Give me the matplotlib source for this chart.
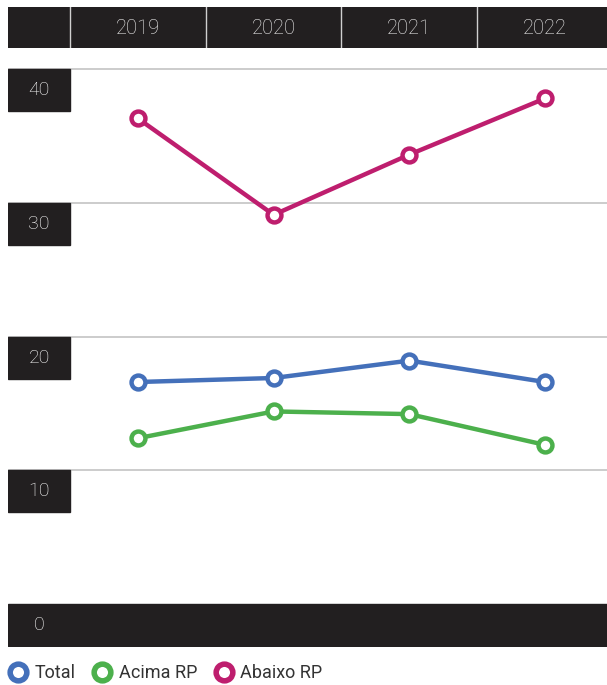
import matplotlib
matplotlib.use("Agg")
import matplotlib.pyplot as plt
from matplotlib.patches import Rectangle
from matplotlib.lines import Line2D

plt.rcParams['font.family'] = ['Roboto', 'DejaVu Sans']

years = ['2019', '2020', '2021', '2022']
total = [16.6, 16.9, 18.2, 16.6]
acima = [12.4, 14.4, 14.2, 11.9]
abaixo = [36.3, 29.1, 33.6, 37.8]
y_ticks = [0, 10, 20, 30, 40]

series = [
    ('Total', total, '#4470BA'),
    ('Acima RP', acima, '#4CB04C'),
    ('Abaixo RP', abaixo, '#BE1E6E'),
]

dark = '#221F20'
W, H = 607, 685
fig = plt.figure(figsize=(W / 100, H / 100), dpi=100)

x0, x1 = -0.958, 3.457
box_h = 3.14

# main plot area (pixel 8..607 horizontally, 48..647 vertically)
ax = fig.add_axes([8 / W, 1 - 647 / H, (607 - 8) / W, (647 - 48) / H])
ax.set_xlim(x0, x1)
ax.set_ylim(-3.21, 41.57)
ax.axis('off')

for v in y_ticks:
    width = (-0.5 - x0) if v > 0 else (x1 - x0)
    if v > 0:
        ax.axhline(v, color='#c8c8c8', lw=1.3, zorder=1)
    ax.add_patch(Rectangle((x0, v - box_h), width, box_h,
                           color=dark, zorder=2))
    ax.text((x0 - 0.5) / 2, v - box_h / 2, str(v), color='white',
            fontsize=14, fontweight='light', ha='center', va='center',
            zorder=3)

xs = range(len(years))
for name, vals, col in series:
    ax.plot(xs, vals, color=col, lw=3.2, marker='o', ms=10,
            markerfacecolor='white', markeredgecolor=col, mew=3.2,
            zorder=4, clip_on=False)

# header with years
hx = fig.add_axes([8 / W, 1 - 48 / H, (607 - 8) / W, 41 / H])
hx.set_xlim(x0, x1)
hx.set_ylim(0, 1)
hx.set_facecolor(dark)
for s in hx.spines.values():
    s.set_visible(False)
hx.set_xticks([])
hx.set_yticks([])
for i, yr in enumerate(years):
    hx.axvline(i - 0.5, color='#d0d0d0', lw=1)
    hx.text(i, 0.47, yr, color='#f2f2f2', fontsize=14.5, fontweight='light',
            ha='center', va='center')

handles = [Line2D([], [], color=col, lw=0, marker='o', ms=12,
                  markerfacecolor='white', markeredgecolor=col, mew=4)
           for _, _, col in series]
fig.legend(handles, [s[0] for s in series], loc='lower left',
           bbox_to_anchor=(-0.015, -0.02), ncol=3, frameon=False,
           fontsize=13, handletextpad=0.3, columnspacing=0.9,
           handlelength=1.2, labelcolor='#333333')

fig.savefig('out.png', dpi=100, facecolor='white')
